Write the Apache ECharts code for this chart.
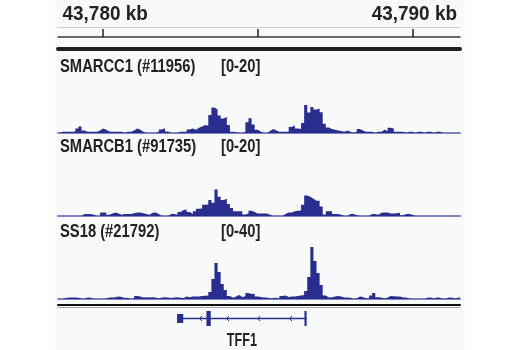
<!DOCTYPE html>
<html>
<head>
<meta charset="utf-8">
<script src="https://cdn.jsdelivr.net/npm/echarts@6/dist/echarts.min.js"></script>
<style>
  html, body { margin: 0; padding: 0; background: #ffffff; }
  #chart { width: 520px; height: 350px; }
</style>
</head>
<body>
<div id="chart"></div>
<script>
// Visible genomic window (chr21, bp)
const viewStart = 43778540;
const viewEnd = 43791540;

// Coverage tracks are binned in 100 bp windows starting here
const binStart = 43778500;
const binSize = 100;

// Ruler
const rulerTicks = [43780000, 43785000, 43790000];
const rulerLabels = [43780000, 43790000];

// Track titles and data ranges
const trackNames = ['SMARCC1 (#11956)', 'SMARCB1 (#91735)', 'SS18 (#21792)'];
const trackRanges = [20, 20, 40];

// Coverage per 100 bp bin
const smarcc1 = [
  0, 0.3, 0.3, 0.3, 0.3, 0.4, 1.1, 1.6, 0.6, 0.3,
  0.3, 0.3, 0.3, 0.6, 1.1, 0.8, 0.4, 0.3, 0.3, 0.3,
  0.3, 0, 0.3, 0.3, 0.6, 1.1, 0.8, 0.3, 0, 0,
  0, 0, 0.3, 0.9, 1.2, 0.4, 0, 0, 0, 0.3,
  0.3, 0.3, 0.9, 1.1, 0.8, 1.3, 1.6, 2.0, 1.8, 4.5,
  6.4, 5.9, 4.4, 3.6, 4.0, 2.0, 0.3, 0.2, 0, 0,
  0.3, 2.7, 3.7, 2.1, 0.8, 0.3, 0, 0, 0.5, 1.0,
  0.6, 0.3, 0.3, 0.3, 0.3, 1.5, 1.9, 1.1, 1.0, 2.5,
  7.0, 5.1, 6.5, 5.9, 6.1, 5.2, 2.3, 1.4, 1.0, 0.8,
  0.6, 0.5, 0.3, 0.6, 0.3, 0, 0.3, 1.0, 0.6, 0.3,
  0.3, 0.3, 0, 0.3, 0.3, 0.8, 0.5, 1.3, 1.1, 0.3,
  0.3, 0.3, 0, 0.3, 0.3, 0, 0.3, 0.3, 0, 0.3,
  0.3, 0, 0.3, 0.3, 0, 0, 0, 0, 0, 0,
  0
];
const smarcb1 = [
  0, 0, 0, 0, 0, 0, 0, 0, 0.5, 0.5,
  0.5, 0.3, 0, 0, 0.9, 0.9, 0.3, 0.6, 0.9, 0.6,
  0.3, 0.5, 0.5, 0.5, 0.7, 0.9, 0.9, 0.7, 0.5, 0.3,
  0.8, 0.9, 0.5, 0, 0, 0, 0.5, 0.5, 0.3, 1.0,
  1.5, 1.6, 1.0, 0.5, 1.2, 1.8, 1.9, 2.8, 2.9, 4.0,
  3.3, 6.6, 4.8, 4.0, 4.3, 3.0, 2.0, 1.2, 1.2, 1.2,
  0.4, 0.6, 1.3, 1.0, 0.6, 0.6, 0.6, 0.6, 0.3, 0,
  0, 0, 0, 0.5, 0.9, 0.9, 1.2, 1.3, 1.4, 2.8,
  5.1, 4.8, 4.3, 3.8, 3.8, 2.4, 0.4, 1.2, 1.2, 0.5,
  0.5, 0.3, 0, 0, 0.5, 0.5, 0.2, 0, 0, 0,
  0, 0.5, 0.5, 0.3, 0.8, 0.9, 0.9, 0.6, 0.6, 0.7,
  0.8, 0.2, 0.5, 0.5, 0.3, 0, 0, 0, 0, 0,
  0, 0, 0, 0, 0, 0, 0, 0, 0, 0,
  0
];
const ss18 = [
  0, 0, 0.5, 0.8, 0.8, 0.8, 0.6, 0.3, 0, 0.8,
  0.6, 0, 0, 0, 0, 0.3, 0.8, 0.8, 0.9, 1.2,
  1.0, 0.5, 0.6, 0, 0.3, 1.5, 1.2, 0.8, 0.9, 0.8,
  0.9, 0.8, 0.3, 0.8, 0.9, 0.8, 0.5, 0.8, 0.9, 0.6,
  0.5, 1.2, 0.9, 1.2, 1.2, 1.3, 1.5, 1.6, 1.8, 3.5,
  10, 18, 13.5, 7.5, 4.5, 1.5, 0.6, 1.2, 2.0, 1.0,
  1.4, 3.0, 2.5, 2.6, 1.3, 1.0, 0.8, 0.8, 0.3, 0.5,
  0.6, 0.3, 1.5, 1.8, 1.0, 1.2, 1.3, 1.5, 1.7, 2.0,
  4.0, 11, 26, 19, 13, 7, 1.8, 0.8, 0.9, 1.2,
  1.5, 1.3, 0.8, 0.8, 0.6, 0, 0.3, 1.2, 1.0, 0.4,
  0.4, 1.8, 3.0, 0.9, 0.8, 0.3, 0.8, 1.5, 1.4, 1.2,
  1.2, 0.8, 0.8, 0.3, 0, 0, 0, 0, 0, 0.8,
  0.8, 0.3, 0.8, 0.6, 0, 0.3, 0.8, 0.6, 0.3, 0.8,
  0.8
];

// Gene model (minus strand)
const geneName = 'TFF1';
const geneStart = 43782391;
const geneEnd = 43786580;
const exonStarts = [43782391, 43783340, 43786510];
const exonEnds = [43782590, 43783480, 43786580];
const exonCoding = [false, true, true];
const strandArrows = [43783150, 43784020, 43785030, 43786060];

const fillColor = '#292d8e';
const baseColor = '#8083bf';
const textColor = '#222222';
const labelFont = "'Liberation Sans', Arial, sans-serif";

function stepData(vals) {
  const d = vals.map((v, i) => [binStart + i * binSize, v]);
  d.push([binStart + vals.length * binSize, vals[vals.length - 1]]);
  return d;
}

const plotLeft = 58, plotRight = 60;
const trackTops = [53, 136, 219];
const trackLabelY = [67, 147, 232];
const trackHeight = 80;
const tracks = [smarcc1, smarcb1, ss18];

const plainAxis = { axisTick: { show: false }, axisLabel: { show: false }, splitLine: { show: false } };

const grids = [
  { left: 55, right: 55, top: 0, bottom: 0, show: true, backgroundColor: '#f8f9fa', borderWidth: 0 },
  { left: plotLeft, right: plotRight, top: 27, height: 10 }
];
trackTops.forEach(t => grids.push({ left: plotLeft, right: plotRight, top: t, height: trackHeight }));
grids.push({ left: plotLeft, right: plotRight, top: 307, height: 23 });

const xAxes = [
  { type: 'value', gridIndex: 0, min: viewStart, max: viewEnd, show: false },
  {
    type: 'value', gridIndex: 1, min: viewStart, max: viewEnd, position: 'bottom',
    axisLine: { show: true, onZero: false, lineStyle: { color: '#3a3a3a', width: 1.5 } },
    axisTick: { show: true, inside: true, length: 8, customValues: rulerTicks, lineStyle: { color: '#222', width: 1.5 } },
    axisLabel: { show: false }, splitLine: { show: false }
  },
  Object.assign({
    type: 'value', gridIndex: 1, min: viewStart, max: viewEnd, position: 'top',
    axisLine: { show: true, onZero: false, lineStyle: { color: '#cfcfcf', width: 1 } }
  }, plainAxis)
];
const yAxes = [
  { type: 'value', gridIndex: 0, min: 0, max: 1, show: false },
  { type: 'value', gridIndex: 1, min: 0, max: 1, show: false }
];
const series = [];

tracks.forEach((vals, k) => {
  const gi = 2 + k;
  xAxes.push(Object.assign({
    type: 'value', gridIndex: gi, min: viewStart, max: viewEnd, position: 'bottom',
    axisLine: { show: true, onZero: false, lineStyle: { color: baseColor, width: 2 } }
  }, plainAxis));
  yAxes.push({ type: 'value', gridIndex: gi, min: 0, max: trackRanges[k], show: false });
  series.push({
    type: 'line', xAxisIndex: xAxes.length - 1, yAxisIndex: yAxes.length - 1,
    data: stepData(vals), step: 'end', symbol: 'none', silent: true,
    lineStyle: { width: 0 }, areaStyle: { color: fillColor, opacity: 1 }
  });
});
// heavy separator under the ruler
xAxes.push(Object.assign({
  type: 'value', gridIndex: 2, min: viewStart, max: viewEnd, position: 'top', offset: 4,
  axisLine: { show: true, onZero: false, lineStyle: { color: '#202020', width: 4 } }
}, plainAxis));

// gene track
const geneGrid = 5;
xAxes.push(Object.assign({
  type: 'value', gridIndex: geneGrid, min: viewStart, max: viewEnd, position: 'top',
  axisLine: { show: true, onZero: false, lineStyle: { color: '#a8a8a8', width: 1 } }
}, plainAxis));
const geneX = xAxes.length - 1;
xAxes.push(Object.assign({
  type: 'value', gridIndex: geneGrid, min: viewStart, max: viewEnd, position: 'top', offset: 2.5,
  axisLine: { show: true, onZero: false, lineStyle: { color: '#111', width: 2 } }
}, plainAxis));
yAxes.push({ type: 'value', gridIndex: geneGrid, min: -1, max: 1, show: false });
const geneY = yAxes.length - 1;

series.push({
  type: 'custom', xAxisIndex: geneX, yAxisIndex: geneY, silent: true,
  data: [[geneStart, 0]],
  renderItem: function (params, api) {
    const y = api.coord([geneStart, 0])[1];
    const xs = api.coord([geneStart, 0])[0];
    const xe = api.coord([geneEnd, 0])[0];
    const children = [{
      type: 'line', shape: { x1: xs, y1: y, x2: xe, y2: y },
      style: { stroke: fillColor, lineWidth: 1.5 }
    }];
    exonStarts.forEach((s, i) => {
      const a = api.coord([s, 0])[0];
      const b = api.coord([exonEnds[i], 0])[0];
      const h = exonCoding[i] ? 15 : 9;
      children.push({
        type: 'rect', shape: { x: a, y: y - h / 2, width: Math.max(b - a, 1.5), height: h },
        style: { fill: fillColor }
      });
    });
    strandArrows.forEach(p => {
      const ax = api.coord([p, 0])[0];
      children.push({
        type: 'polyline', shape: { points: [[ax + 1.5, y - 2.5], [ax - 1, y], [ax + 1.5, y + 2.5]] },
        style: { stroke: fillColor, lineWidth: 1, fill: null }
      });
    });
    children.push({
      type: 'text', x: (xs + xe) / 2, y: y + 23, scaleX: 0.7,
      style: {
        text: geneName, fill: textColor, fontFamily: labelFont, fontWeight: 'bold', fontSize: 18,
        align: 'center', verticalAlign: 'middle'
      }
    });
    return { type: 'group', children: children };
  }
});

const chart = echarts.init(document.getElementById('chart'), null, { renderer: 'canvas' });
chart.setOption({
  animation: false,
  backgroundColor: '#ffffff',
  grid: grids,
  xAxis: xAxes,
  yAxis: yAxes,
  series: series
});

// Condensed text labels: ruler coordinates and track headers
function label(text, x, y, size, align, sx) {
  return {
    type: 'text', x: x, y: y, scaleX: sx, silent: true,
    style: {
      text: text, fill: textColor, fontFamily: labelFont, fontWeight: 'bold', fontSize: size,
      align: align, verticalAlign: 'middle'
    }
  };
}
const graphics = [];
rulerLabels.forEach(v => {
  const px = chart.convertToPixel({ xAxisIndex: 1 }, v);
  graphics.push(label((v / 1000).toLocaleString('en-US') + ' kb', px + 2, 14, 21, 'center', 0.9));
});
trackNames.forEach((name, k) => {
  graphics.push(label(name, 60, trackLabelY[k], 18, 'left', 0.82));
  graphics.push(label('[0-' + trackRanges[k] + ']', 221, trackLabelY[k], 18, 'left', 0.82));
});
chart.setOption({ graphic: graphics });
</script>
</body>
</html>
